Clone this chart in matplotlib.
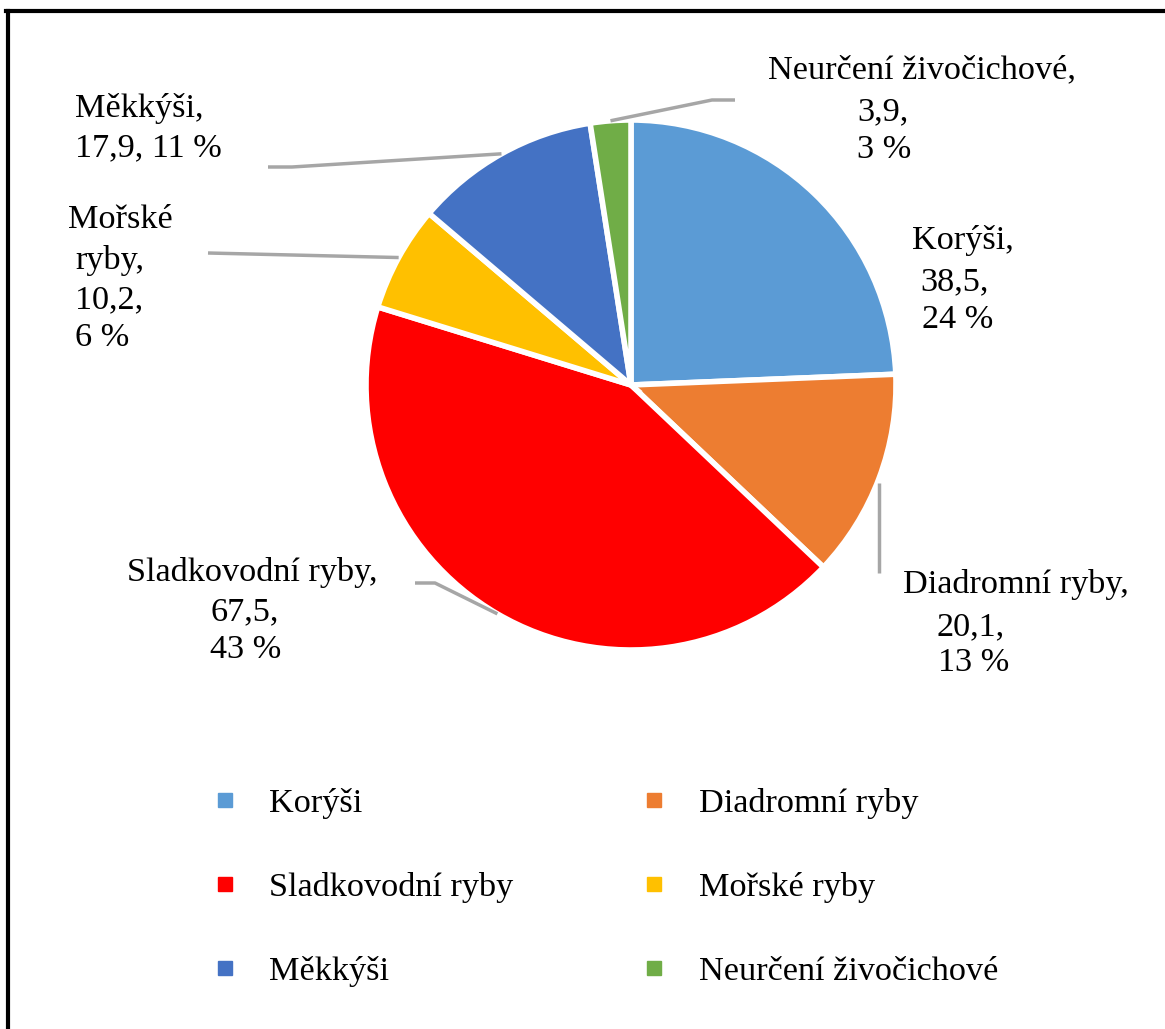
import numpy as np
import matplotlib.pyplot as plt
from matplotlib.lines import Line2D

plt.rcParams['font.family'] = ['Liberation Serif', 'DejaVu Serif']

categories = ["Korýši", "Diadromní ryby", "Sladkovodní ryby",
              "Mořské ryby", "Měkkýši", "Neurčení živočichové"]
values = [38.5, 20.1, 67.5, 10.2, 17.9, 3.9]
percent_text = ["24 %", "13 %", "43 %", "6 %", "11 %", "3 %"]
colors = ["#5B9BD5", "#ED7D31", "#FF0000", "#FFC000", "#4472C4", "#70AD47"]

W, H = 1165, 1029
fig = plt.figure(figsize=(W / 100, H / 100), dpi=100)
ax = fig.add_axes([0, 0, 1, 1])

cx, cy, R = 631, H - 385, 265
wedges, _ = ax.pie(values, colors=colors, startangle=90, counterclock=False,
                   center=(cx, cy), radius=R, frame=True,
                   wedgeprops=dict(edgecolor='white', linewidth=4))
ax.set_xlim(0, W)
ax.set_ylim(0, H)
ax.set_aspect('equal')
ax.axis('off')

def val_txt(v):
    return f"{v:.1f}".replace('.', ',')

# data labels: (text, x_left, y_center) in pixels from top-left
fs = 24.7
lab = {
    0: [(categories[0] + ",", 912, 240), (val_txt(values[0]) + ",", 920, 282), (percent_text[0], 922, 320)],
    1: [(categories[1] + ",", 903, 584), (val_txt(values[1]) + ",", 937, 627), (percent_text[1], 938, 663)],
    2: [(categories[2] + ",", 127, 573), (val_txt(values[2]) + ",", 210, 612), (percent_text[2], 210, 650)],
    3: [("Mořské", 68, 220), ("ryby,", 75, 260), (val_txt(values[3]) + ",", 75, 300), (percent_text[3], 75, 338)],
    4: [(categories[4] + ",", 75, 108), (val_txt(values[4]) + ", " + percent_text[4], 75, 148)],
    5: [(categories[5] + ",", 768, 70), (val_txt(values[5]) + ",", 857, 112), (percent_text[5], 857, 150)],
}
for i, lines in lab.items():
    for t, x, y in lines:
        ax.text(x, H - y, t, fontsize=fs, ha='left', va='center', color='#000000')

# leader lines: elbow points, ending at the wedge's mid rim point
elbows = {
    1: [(882, 573)],
    2: [(415, 583), (435, 583)],
    3: [(208, 253)],
    4: [(268, 167), (292, 167)],
    5: [(735, 100), (712, 100)],
}
for i, pts in elbows.items():
    w = wedges[i]
    mid = np.deg2rad((w.theta1 + w.theta2) / 2)
    rx, ry = cx + R * np.cos(mid), cy + R * np.sin(mid)
    xs = [p[0] for p in pts]
    ys = [H - p[1] for p in pts]
    if i == 1:
        xs = [rx, rx]
        ys = [ry - 5] + ys
    else:
        xs = xs + [rx]
        ys = ys + [ry]
    ax.plot(xs, ys, color='#A6A6A6', linewidth=2.5, solid_capstyle='butt')

# legend (row-major order in 2 columns)
handles = [Line2D([], [], marker='s', linestyle='none', markersize=10,
                  markerfacecolor=c, markeredgecolor=c) for c in colors]
order = [0, 2, 4, 1, 3, 5]
leg = fig.legend([handles[i] for i in order], [categories[i] for i in order],
                 ncol=2, loc='upper left', bbox_to_anchor=(211 / W, 1 - 788 / H),
                 frameon=False, fontsize=fs, handlelength=0.8, handletextpad=0.9,
                 labelspacing=1.55, columnspacing=3.7, borderaxespad=0, borderpad=0)

# outer border (top and left edges visible)
fig.add_artist(Line2D([7.5 / W, 7.5 / W], [0, 1 - 10.5 / H], color='black', linewidth=3,
                      transform=fig.transFigure))
fig.add_artist(Line2D([6 / W, 1], [1 - 10.5 / H, 1 - 10.5 / H], color='black', linewidth=3,
                      transform=fig.transFigure))

fig.savefig("out.png", dpi=100)
